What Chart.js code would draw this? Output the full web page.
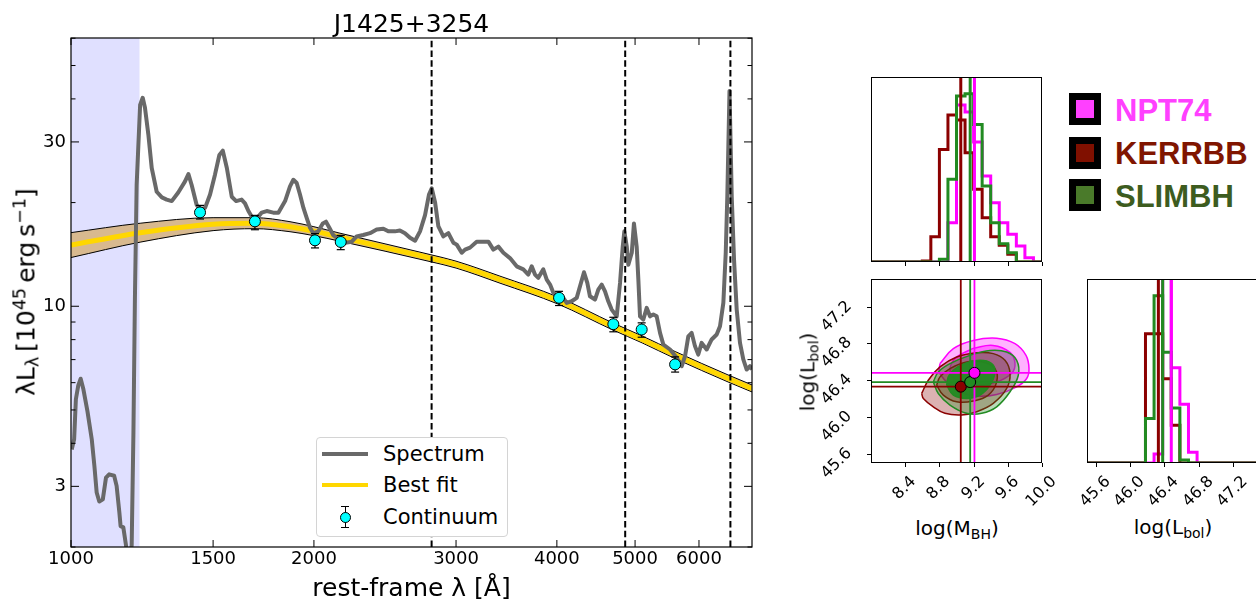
<!DOCTYPE html>
<html>
<head>
<meta charset="utf-8">
<script src="https://cdn.jsdelivr.net/npm/chart.js@4.4.1/dist/chart.umd.min.js"></script>
<style>
  html, body { margin: 0; padding: 0; background: #fff; overflow: hidden; }
  body { width: 1256px; height: 600px; position: relative; font-family: "DejaVu Sans", sans-serif; color: #000; }
  canvas { position: absolute; }
  .lbl { position: absolute; white-space: nowrap; line-height: 1.164; }
  .lbl sub, .lbl sup { font-size: 70%; line-height: 0; }
  .lbl sup { vertical-align: 0.5em; }
  .lbl sub { vertical-align: -0.25em; }
  .centered { transform: translate(-50%, -50%); }
  #sedLegend { position: absolute; left: 316px; top: 437px; width: 192px; height: 100px; box-sizing: border-box;
               border: 1px solid #d4d4d4; border-radius: 4px; background: #fff; }
  #sedLegend div { position: absolute; }
  .lgtext { left: 66px; font-size: 21px; line-height: 1.164; white-space: nowrap; }
  .mkey { position: absolute; width: 18px; height: 18px; border: 7px solid #000; }
  .mname { position: absolute; left: 1115px; font-family: "Liberation Sans", Arial, sans-serif; font-weight: bold;
           font-size: 31px; line-height: 1.117; white-space: nowrap; }
</style>
</head>
<body>
<canvas id="sed" width="780" height="600" style="left:0;top:0"></canvas>
<canvas id="massHist" width="200" height="210" style="left:860px;top:70px"></canvas>
<canvas id="contours" width="280" height="240" style="left:780px;top:270px"></canvas>
<canvas id="lumHist" width="210" height="240" style="left:1060px;top:270px"></canvas>

<div class="lbl" style="left:0;top:9px;width:823px;text-align:center;font-size:25px">J1425+3254</div>
<div class="lbl" style="left:0;top:573px;width:823px;text-align:center;font-size:25px">rest-frame λ [Å]</div>
<div class="lbl" style="left:26px;top:292px;font-size:25px;transform:translate(-50%,-50%) rotate(-90deg)">λL<sub>λ</sub>&#8201;[10<sup>45</sup>&#8201;erg&#8201;s<sup>−1</sup>]</div>

<div id="sedLegend">
  <div style="left:5px;top:14px;width:46px;height:4px;background:#696969"></div>
  <div class="lgtext" style="top:4px">Spectrum</div>
  <div style="left:5px;top:45px;width:46px;height:4px;background:#ffd700"></div>
  <div class="lgtext" style="top:35px">Best fit</div>
  <div style="left:27.5px;top:68px;width:1.2px;height:21px;background:#000"></div>
  <div style="left:24px;top:67.5px;width:8px;height:1.2px;background:#000"></div>
  <div style="left:24px;top:88.5px;width:8px;height:1.2px;background:#000"></div>
  <div style="left:22.5px;top:73.5px;width:9px;height:9px;border:1px solid #000;border-radius:50%;background:#00ffff"></div>
  <div class="lgtext" style="top:67px">Continuum</div>
</div>

<div class="lbl centered" style="left:957px;top:529px;font-size:20px">log(M<sub>BH</sub>)</div>
<div class="lbl centered" style="left:1173px;top:528px;font-size:20px">log(L<sub>bol</sub>)</div>
<div class="lbl" style="left:808px;top:372px;font-size:20px;transform:translate(-50%,-50%) rotate(-90deg)">log(L<sub>bol</sub>)</div>

<div class="mkey" style="left:1069px;top:93px;background:#ff40ff"></div>
<div class="mkey" style="left:1069px;top:137px;background:#801000"></div>
<div class="mkey" style="left:1069px;top:179px;background:#4a7a2a"></div>
<div class="mname" style="top:94px;color:#ff40ff">NPT74</div>
<div class="mname" style="top:137px;color:#801500">KERRBB</div>
<div class="mname" style="top:180px;color:#3d5c1f">SLIMBH</div>

<script>
Chart.defaults.font.family = "DejaVu Sans";

// ---- SED panel ----
const sedWaveRange = [1000, 6980];
const sedLumRange = [2.0, 60.1];
const sedWaveTicks = [1000, 1500, 2000, 3000, 4000, 5000, 6000];
const sedLumTicks = [3, 10, 30];
const sedLumMinor = [2, 4, 5, 6, 7, 8, 9, 20, 40, 50, 60];
const lyaBand = [1000, 1216];
const lineWaves = [2798, 4861, 6563];

const specWave = [
  1002, 1009, 1014, 1021, 1028, 1036, 1048, 1061, 1069, 1076,
  1084, 1095, 1105, 1115, 1131, 1139, 1148, 1152, 1161, 1170,
  1177, 1189, 1195, 1200, 1206, 1218, 1227, 1235, 1247, 1259,
  1277, 1296, 1314, 1333, 1358, 1384, 1398, 1411, 1431, 1445,
  1466, 1487, 1508, 1527, 1542, 1560, 1582, 1602, 1627, 1643,
  1659, 1675, 1699, 1723, 1748, 1781, 1807, 1842, 1868, 1886,
  1904, 1922, 1941, 1960, 1978, 1996, 2025, 2051, 2070, 2090,
  2113, 2154, 2196, 2228, 2259, 2302, 2347, 2392, 2438, 2473,
  2520, 2556, 2593, 2631, 2669, 2707, 2746, 2777, 2799, 2826,
  2852, 2893, 2935, 2977, 3006, 3049, 3078, 3122, 3182, 3243,
  3290, 3337, 3385, 3434, 3499, 3567, 3635, 3687, 3723, 3758,
  3794, 3848, 3886, 3923, 3960, 4017, 4074, 4114, 4173, 4233,
  4273, 4322, 4363, 4396, 4460, 4502, 4546, 4589, 4632, 4677,
  4745, 4790, 4827, 4849, 4883, 4905, 4953, 4984, 5023, 5047,
  5071, 5119, 5169, 5218, 5267, 5318, 5369, 5420, 5525, 5631,
  5712, 5766, 5820, 5876, 5932, 5988, 6046, 6133, 6221, 6311,
  6371, 6432, 6476, 6505, 6546, 6588, 6631, 6682, 6745, 6809,
  6875, 6940, 6980
];
const specLum = [
  3.84, 4.11, 5.37, 5.89, 6.16, 5.74, 4.96, 4.11, 3.44, 2.88,
  2.71, 2.75, 3.18, 3.25, 3.22, 3.01, 2.52, 2.30, 2.28, 2.02,
  1.78, 2.02, 4.31, 10.46, 22.5, 38.4, 40.3, 37.7, 31.5, 25.2,
  21.5, 20.7, 20.4, 20.2, 21.4, 23.0, 24.2, 22.5, 19.7, 19.1,
  19.3, 21.1, 24.1, 27.5, 28.3, 25.2, 20.8, 20.2, 20.4, 19.9,
  18.9, 18.2, 18.0, 18.7, 18.9, 18.7, 18.7, 20.2, 22.3, 23.3,
  22.8, 21.1, 19.3, 18.0, 16.9, 16.3, 16.5, 17.4, 17.6, 16.9,
  16.1, 15.6, 15.3, 15.4, 15.95, 16.1, 16.3, 16.7, 16.8, 16.5,
  16.5, 16.6, 16.3, 15.8, 15.5, 16.5, 18.4, 21.1, 22.0, 20.0,
  17.1, 15.95, 16.3, 15.3, 15.1, 14.3, 14.6, 14.8, 15.4, 15.4,
  15.4, 14.6, 14.9, 14.3, 13.8, 13.06, 12.8, 12.36, 13.06, 12.36,
  12.09, 12.8, 11.95, 11.56, 10.94, 10.69, 10.58, 10.23, 10.34, 10.58,
  11.43, 12.55, 11.69, 10.69, 10.46, 11.18, 11.56, 11.05, 10.34, 9.78,
  9.35, 11.69, 14.9, 16.5, 14.9, 13.2, 14.3, 17.4, 14.9, 11.95,
  9.35, 9.15, 9.89, 9.35, 9.46, 9.35, 8.37, 7.74, 7.49, 7.09,
  6.70, 7.16, 8.18, 8.37, 7.66, 7.24, 7.83, 7.49, 8.01, 8.28,
  8.75, 10.23, 14.3, 20.8, 42.2, 20.8, 13.66, 9.78, 7.83, 7.01,
  6.55, 6.70, 6.55
];

const fitWave  = [1000, 1218, 1500, 1690, 1868, 2000, 2154, 2786, 3000, 3401, 4013, 4695, 5101, 5605, 6518, 6980];
const fitLum   = [15.05, 16.35, 17.31, 17.43, 17.02, 16.52, 15.87, 13.80, 13.21, 11.95, 10.39, 8.73, 8.01, 7.22, 6.17, 5.77];
const fitUpper = [16.36, 17.42, 18.08, 18.08, 17.60, 17.02, 16.30, 14.13, 13.52, 12.23, 10.64, 8.94, 8.20, 7.39, 6.32, 5.91];
const fitLower = [13.85, 15.35, 16.58, 16.80, 16.46, 16.03, 15.45, 13.48, 12.91, 11.67, 10.15, 8.53, 7.83, 7.05, 6.03, 5.64];

const contWave = [1445, 1690, 2006, 2159, 4025, 4699, 5095, 5605];
const contLum  = [18.73, 17.64, 15.54, 15.37, 10.58, 8.87, 8.56, 6.78];
const contLo   = [17.92, 16.68, 14.77, 14.60, 10.05, 8.43, 8.13, 6.44];
const contHi   = [19.63, 18.36, 16.25, 16.06, 11.05, 9.29, 8.95, 7.13];

// ---- corner panels ----
const modelNames = ["NPT74", "KERRBB", "SLIMBH"];
const modelColors = ["#ff00ff", "#8b0000", "#228b22"];
const medMass = [9.21, 9.05, 9.16];
const medLum = [46.48, 46.33, 46.38];

const massRange = [8.0, 10.0];
const lumRange = [45.5, 47.5];
const massTicks = [8.4, 8.8, 9.2, 9.6, 10.0];
const lumTicks = [45.6, 46.0, 46.4, 46.8, 47.2];

const massEdges = [8.0, 8.1, 8.2, 8.3, 8.4, 8.5, 8.6, 8.7, 8.8, 8.9, 9.0,
                   9.1, 9.2, 9.3, 9.4, 9.5, 9.6, 9.7, 9.8, 9.9, 10.0];
const npt74Mass  = [0, 0, 0, 0, 0, 0, 0, 0, 0, 393, 1570, 1500, 1200, 860, 593, 393, 277, 160, 43, 0];
const kerrbbMass = [0, 0, 0, 0, 0, 0, 10, 253, 1127, 1470, 1420, 1093, 727, 443, 253, 167, 77, 0, 0, 0];
const slimbhMass = [0, 0, 0, 0, 0, 0, 0, 0, 27, 827, 1660, 1683, 1377, 760, 393, 183, 93, 0, 0, 0];

const lumEdges = [45.48, 45.58, 45.68, 45.78, 45.88, 45.98, 46.08, 46.18, 46.28, 46.38, 46.48,
                  46.58, 46.68, 46.78, 46.88, 46.98, 47.08, 47.18, 47.28, 47.38, 47.48];
const npt74Lum  = [0, 0, 0, 0, 0, 0, 0, 0, 90, 2150, 957, 590, 107, 0, 0, 0, 0, 0, 0, 0];
const kerrbbLum = [0, 0, 0, 0, 0, 0, 0, 1297, 1297, 847, 380, 0, 0, 0, 0, 0, 0, 0, 0, 0];
const slimbhLum = [0, 0, 0, 0, 0, 0, 0, 447, 1680, 1113, 553, 30, 0, 0, 0, 0, 0, 0, 0, 0];

// credible-region outlines (outer, inner) in the M_BH - L_bol plane
const npt74OuterM = [8.807, 8.963, 9.196, 9.470, 9.684, 9.813, 9.848, 9.821, 9.704, 9.470, 9.236, 9.041, 8.885, 8.799];
const npt74OuterL = [46.581, 46.743, 46.832, 46.857, 46.797, 46.670, 46.526, 46.418, 46.328, 46.245, 46.227, 46.274, 46.382, 46.490];
const npt74InnerM = [9.193, 9.427, 9.626, 9.684, 9.646, 9.470, 9.236, 9.002, 8.924, 8.982];
const npt74InnerL = [46.746, 46.778, 46.703, 46.584, 46.476, 46.382, 46.346, 46.400, 46.490, 46.635];
const kerrbbOuterM = [8.593, 8.612, 8.729, 8.865, 9.061, 9.236, 9.430, 9.587, 9.626, 9.567, 9.430, 9.236, 9.002, 8.807, 8.670];
const kerrbbOuterL = [46.256, 46.202, 46.111, 46.040, 46.022, 46.057, 46.148, 46.310, 46.472, 46.616, 46.689, 46.699, 46.652, 46.544, 46.400];
const kerrbbInnerM = [8.768, 8.846, 9.002, 9.196, 9.372, 9.470, 9.450, 9.313, 9.119, 8.924, 8.807];
const kerrbbInnerL = [46.346, 46.238, 46.165, 46.173, 46.238, 46.382, 46.526, 46.598, 46.598, 46.526, 46.436];
const slimbhOuterM = [8.729, 8.787, 8.924, 9.119, 9.295, 9.470, 9.626, 9.723, 9.704, 9.587, 9.392, 9.158, 8.924, 8.787];
const slimbhOuterL = [46.382, 46.256, 46.130, 46.040, 46.040, 46.111, 46.274, 46.454, 46.616, 46.706, 46.724, 46.670, 46.581, 46.490];
const slimbhInnerM = [8.885, 8.963, 9.119, 9.275, 9.392, 9.450, 9.412, 9.275, 9.099, 8.963, 8.904];
const slimbhInnerL = [46.346, 46.238, 46.202, 46.238, 46.346, 46.490, 46.581, 46.616, 46.581, 46.508, 46.436];

// ---- helpers ----
const pairs = (xs, ys) => xs.map((x, i) => ({ x, y: ys[i] }));
const loop = (xs, ys) => { const p = pairs(xs, ys); p.push(p[0]); return p; };
const histOutline = (edges, counts) => {
  const pts = [{ x: edges[0], y: 0 }];
  counts.forEach((c, i) => pts.push({ x: edges[i], y: c }, { x: edges[i + 1], y: c }));
  pts.push({ x: edges[edges.length - 1], y: 0 });
  return pts;
};
const seg = (ctx, x0, y0, x1, y1) => { ctx.beginPath(); ctx.moveTo(x0, y0); ctx.lineTo(x1, y1); ctx.stroke(); };
const baseOpts = { responsive: false, animation: false, events: [] };
const noPlugins = { legend: { display: false }, tooltip: { enabled: false } };

// shading, error bars and inward ticks for the SED panel
const sedAxes = {
  id: "sedAxes",
  beforeDraw(chart) {
    const { ctx, chartArea: a, scales: { x } } = chart;
    const x0 = x.getPixelForValue(lyaBand[0]), x1 = x.getPixelForValue(lyaBand[1]);
    ctx.save();
    ctx.fillStyle = "rgba(0,0,255,0.12)";
    ctx.fillRect(x0, a.top, x1 - x0, a.bottom - a.top);
    ctx.restore();
  },
  beforeDatasetDraw(chart, args) {
    if (chart.data.datasets[args.index].label !== "Continuum") return;
    const { ctx, scales: { x, y } } = chart;
    ctx.save();
    ctx.strokeStyle = "#000";
    ctx.lineWidth = 1.2;
    contWave.forEach((w, i) => {
      const px = x.getPixelForValue(w);
      const lo = y.getPixelForValue(contLo[i]), hi = y.getPixelForValue(contHi[i]);
      seg(ctx, px, lo, px, hi);
      seg(ctx, px - 4, lo, px + 4, lo);
      seg(ctx, px - 4, hi, px + 4, hi);
    });
    ctx.restore();
  },
  afterDraw(chart) {
    const { ctx, chartArea: a, scales: { x, y } } = chart;
    ctx.save();
    ctx.strokeStyle = "#000";
    ctx.lineWidth = 1.2;
    ctx.strokeRect(a.left, a.top, a.right - a.left, a.bottom - a.top);
    ctx.lineWidth = 1;
    sedWaveTicks.forEach((v) => {
      const p = x.getPixelForValue(v);
      seg(ctx, p, a.bottom, p, a.bottom - 7);
      seg(ctx, p, a.top, p, a.top + 7);
    });
    sedLumTicks.forEach((v) => {
      const p = y.getPixelForValue(v);
      seg(ctx, a.left, p, a.left + 8, p);
      seg(ctx, a.right, p, a.right - 8, p);
    });
    sedLumMinor.forEach((v) => {
      const p = y.getPixelForValue(v);
      if (p < a.top || p > a.bottom) return;
      seg(ctx, a.left, p, a.left + 4.5, p);
      seg(ctx, a.right, p, a.right - 4.5, p);
    });
    ctx.restore();
  }
};

new Chart(document.getElementById("sed"), {
  type: "line",
  data: {
    datasets: [
      { label: "Upper", data: pairs(fitWave, fitUpper), borderColor: "#000", borderWidth: 1,
        pointRadius: 0, cubicInterpolationMode: "monotone", fill: false, order: 9 },
      { label: "Lower", data: pairs(fitWave, fitLower), borderColor: "#000", borderWidth: 1,
        pointRadius: 0, cubicInterpolationMode: "monotone", fill: "-1", backgroundColor: "#d8b98f", order: 8 },
      { label: "Best fit", data: pairs(fitWave, fitLum), borderColor: "#ffd700", borderWidth: 5,
        pointRadius: 0, cubicInterpolationMode: "monotone", order: 7 },
      { label: "Spectrum", data: pairs(specWave, specLum), borderColor: "#696969", borderWidth: 4,
        pointRadius: 0, borderJoinStyle: "round", clip: 0, order: 6 },
      ...lineWaves.map((w) => ({
        label: "line", data: [{ x: w, y: sedLumRange[0] }, { x: w, y: sedLumRange[1] }],
        borderColor: "#000", borderWidth: 2, borderDash: [6.5, 3.3], pointRadius: 0, order: 5
      })),
      { type: "scatter", label: "Continuum", data: pairs(contWave, contLum), backgroundColor: "#00ffff",
        borderColor: "#000", borderWidth: 1, pointRadius: 5.5, order: 1 }
    ]
  },
  options: {
    ...baseOpts,
    layout: { padding: { left: 0, top: 38, right: 28, bottom: 0 } },
    plugins: { ...noPlugins, filler: { drawTime: "beforeDatasetsDraw" } },
    scales: {
      x: {
        type: "logarithmic", position: "bottom", min: sedWaveRange[0], max: sedWaveRange[1],
        grid: { display: false, drawTicks: false }, border: { display: false },
        ticks: { color: "#000", font: { size: 18 }, padding: 2, autoSkip: false, maxRotation: 0, minRotation: 0,
                 callback: (v) => String(v) },
        afterBuildTicks: (s) => { s.ticks = sedWaveTicks.map((v) => ({ value: v })); },
        afterFit: (s) => { s.height = 53; }
      },
      y: {
        type: "logarithmic", position: "left", min: sedLumRange[0], max: sedLumRange[1],
        grid: { display: false, drawTicks: false }, border: { display: false },
        ticks: { color: "#000", font: { size: 18 }, padding: 5, autoSkip: false, callback: (v) => String(v) },
        afterBuildTicks: (s) => { s.ticks = sedLumTicks.map((v) => ({ value: v })); },
        afterFit: (s) => { s.width = 71; }
      }
    }
  },
  plugins: [sedAxes]
});

// frame, outward ticks and 45-degree labels for the corner panels
const cornerAxes = {
  id: "cornerAxes",
  afterDraw(chart, args, opts) {
    const { ctx, chartArea: a, scales: { x, y } } = chart;
    const fs = 16;
    ctx.save();
    ctx.strokeStyle = "#000";
    ctx.fillStyle = "#000";
    ctx.lineWidth = 1;
    ctx.strokeRect(a.left + 0.5, a.top + 0.5, a.right - a.left - 1, a.bottom - a.top - 1);
    ctx.font = fs + 'px "DejaVu Sans"';
    ctx.textAlign = "center";
    ctx.textBaseline = "middle";
    const span = (t) => (ctx.measureText(t).width + fs) / Math.SQRT2;
    const label = (t, cx, cy) => {
      ctx.save(); ctx.translate(cx, cy); ctx.rotate(-Math.PI / 4); ctx.fillText(t, 0, 0); ctx.restore();
    };
    (opts.xTicks || []).forEach((v) => {
      const p = Math.round(x.getPixelForValue(v)) + 0.5;
      seg(ctx, p, a.bottom, p, a.bottom + 4);
      if (opts.xLabels) { const t = v.toFixed(1); label(t, p - 1, a.bottom + 10.4 + span(t) / 2); }
    });
    (opts.yTicks || []).forEach((v) => {
      const p = Math.round(y.getPixelForValue(v)) + 0.5;
      seg(ctx, a.left, p, a.left - 4, p);
      if (opts.yLabels) { const t = v.toFixed(1); label(t, a.left - 16 - span(t) / 2, p + 9); }
    });
    ctx.restore();
  }
};

const hiddenAxis = (range) => ({ type: "linear", display: false, min: range[0], max: range[1] });
const histSets = (edges, series, meds) => [
  ...series.map((c, i) => ({ label: modelNames[i], data: histOutline(edges, c), borderColor: modelColors[i],
    borderWidth: 3, pointRadius: 0, order: 10 - i })),
  ...meds.map((m, i) => ({ label: modelNames[i] + " median", data: [{ x: m, y: 0 }, { x: m, y: 1e5 }],
    borderColor: modelColors[i], borderWidth: 3, pointRadius: 0, order: 5 - i }))
];

new Chart(document.getElementById("massHist"), {
  type: "line",
  data: { datasets: histSets(massEdges, [npt74Mass, kerrbbMass, slimbhMass], medMass) },
  options: {
    ...baseOpts,
    layout: { padding: { left: 11, top: 7, right: 18, bottom: 18 } },
    plugins: { ...noPlugins, cornerAxes: { xTicks: massTicks, xLabels: false } },
    scales: { x: hiddenAxis(massRange), y: hiddenAxis([0, 1.1 * Math.max(...slimbhMass)]) }
  },
  plugins: [cornerAxes]
});

new Chart(document.getElementById("lumHist"), {
  type: "line",
  data: { datasets: histSets(lumEdges, [npt74Lum, kerrbbLum, slimbhLum], medLum) },
  options: {
    ...baseOpts,
    layout: { padding: { left: 27, top: 9, right: 11, bottom: 47 } },
    plugins: { ...noPlugins, cornerAxes: { xTicks: lumTicks, xLabels: true } },
    scales: { x: hiddenAxis(lumRange), y: hiddenAxis([0, 1.1 * Math.max(...slimbhLum)]) }
  },
  plugins: [cornerAxes]
});

const region = (label, m, l, fillColor, lineColor, order) => ({
  label, data: loop(m, l), fill: "shape", backgroundColor: fillColor, borderColor: lineColor,
  borderWidth: 1.5, pointRadius: 0, tension: 0.4, order
});

new Chart(document.getElementById("contours"), {
  type: "line",
  data: {
    datasets: [
      region("NPT74 outer", npt74OuterM, npt74OuterL, "rgba(255,0,255,0.3)", "#ff00ff", 30),
      region("NPT74 inner", npt74InnerM, npt74InnerL, "rgba(255,0,255,0.4)", "#ff00ff", 29),
      region("KERRBB outer", kerrbbOuterM, kerrbbOuterL, "rgba(139,0,0,0.3)", "#8b0000", 28),
      region("KERRBB inner", kerrbbInnerM, kerrbbInnerL, "rgba(139,0,0,0.3)", "#8b0000", 27),
      region("SLIMBH outer", slimbhOuterM, slimbhOuterL, "rgba(34,139,34,0.32)", "#228b22", 26),
      region("SLIMBH inner", slimbhInnerM, slimbhInnerL, "rgba(34,139,34,0.95)", "#228b22", 25),
      ...medMass.map((m, i) => ({ label: "vline", data: [{ x: m, y: lumRange[0] }, { x: m, y: lumRange[1] }],
        borderColor: modelColors[i], borderWidth: 1.8, pointRadius: 0, order: 20 - i })),
      ...medLum.map((l, i) => ({ label: "hline", data: [{ x: massRange[0], y: l }, { x: massRange[1], y: l }],
        borderColor: modelColors[i], borderWidth: 1.8, pointRadius: 0, order: 20 - i })),
      { type: "scatter", label: "medians", data: [1, 2, 0].map((i) => ({ x: medMass[i], y: medLum[i] })),
        backgroundColor: [1, 2, 0].map((i) => modelColors[i]), borderColor: "#000", borderWidth: 1,
        pointRadius: 5.5, order: 1 }
    ]
  },
  options: {
    ...baseOpts,
    layout: { padding: { left: 91, top: 9, right: 18, bottom: 47 } },
    plugins: { ...noPlugins, cornerAxes: { xTicks: massTicks, xLabels: true, yTicks: lumTicks, yLabels: true } },
    scales: { x: hiddenAxis(massRange), y: hiddenAxis(lumRange) }
  },
  plugins: [cornerAxes]
});
</script>
</body>
</html>
